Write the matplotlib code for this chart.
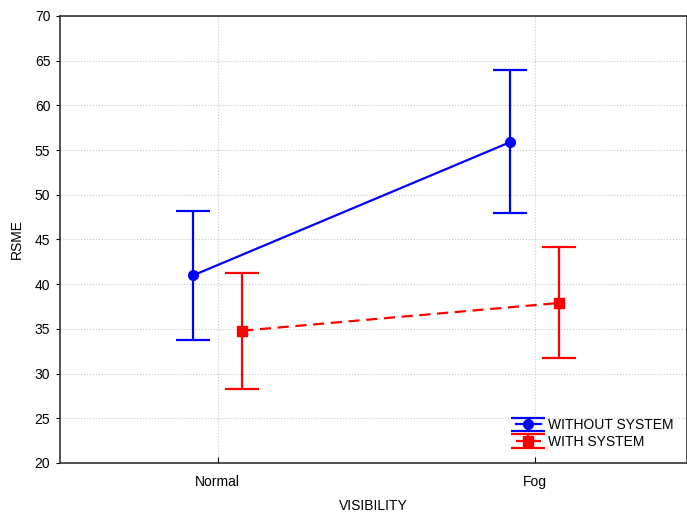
import numpy as np
import matplotlib
matplotlib.use('Agg')
import matplotlib.pyplot as plt

plt.rcParams['font.family'] = ['Liberation Sans', 'DejaVu Sans']
plt.rcParams['font.size'] = 10

visibility = ['Normal', 'Fog']
without_mean = [41.0, 55.9]
without_low = [33.8, 48.0]
without_high = [48.2, 64.0]
with_mean = [34.8, 37.9]
with_low = [28.3, 31.7]
with_high = [41.3, 44.2]

fig = plt.figure(figsize=(6.87, 5.15), dpi=100)
ax = fig.add_axes([0.0873, 0.101, 0.9127, 0.868])

x = np.arange(len(visibility))
off = 0.077

err_wo = [np.array(without_mean) - np.array(without_low),
          np.array(without_high) - np.array(without_mean)]
err_w = [np.array(with_mean) - np.array(with_low),
         np.array(with_high) - np.array(with_mean)]

ax.errorbar(x - off, without_mean, yerr=err_wo, color='#0000ff', lw=1.6,
            marker='o', ms=7, capsize=12, capthick=1.6, elinewidth=1.6,
            label='WITHOUT SYSTEM', zorder=3)
ax.errorbar(x + off, with_mean, yerr=err_w, color='#ff0000', lw=1.6,
            ls=(0, (5, 3)), marker='s', ms=7, capsize=12, capthick=1.6,
            elinewidth=1.6, label='WITH SYSTEM', zorder=3)

ax.set_xlim(-0.498, 1.48)
ax.set_ylim(20, 70)
ax.set_yticks(range(20, 71, 5))
ax.set_xticks(x)
ax.set_xticklabels(visibility)
ax.tick_params(axis='x', direction='in', length=4, pad=9)
ax.tick_params(axis='y', direction='out', length=3, pad=4)
ax.grid(True, color='#c8c8c8', ls=':', lw=0.8)
ax.set_axisbelow(True)
for s in ax.spines.values():
    s.set_linewidth(1.2)
    s.set_color('#333333')

ax.set_xlabel('VISIBILITY', labelpad=7)
ax.set_ylabel('RSME', labelpad=8)

leg = ax.legend(loc='lower right', bbox_to_anchor=(1.0, 0.0), frameon=False,
                handlelength=1.8, handletextpad=0.5, labelspacing=0.2,
                borderaxespad=0.6)

fig.savefig('out.png', dpi=100)
